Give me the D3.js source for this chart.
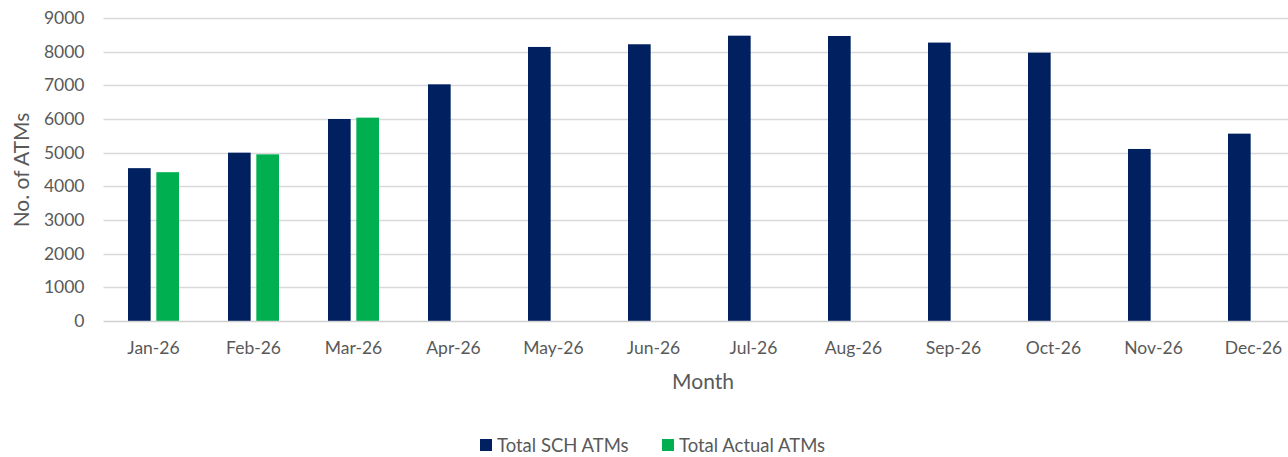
<!DOCTYPE html>
<html>
<head>
<meta charset="utf-8">
<script src="https://cdn.jsdelivr.net/npm/d3@7"></script>
<style>
  body { margin: 0; background: #fff; }
  svg { display: block; font-family: Lato, "Open Sans", sans-serif; }
</style>
</head>
<body>
<svg id="chart" width="1288" height="457"></svg>
<script>
// values
var months = ["Jan-26", "Feb-26", "Mar-26", "Apr-26", "May-26", "Jun-26",
              "Jul-26", "Aug-26", "Sep-26", "Oct-26", "Nov-26", "Dec-26"];
var schAtms = [4540, 5000, 6000, 7030, 8140, 8220, 8475, 8465, 8270, 7970, 5110, 5565];
var actualAtms = [4420, 4950, 6040, null, null, null, null, null, null, null, null, null];
var seriesNames = ["Total SCH ATMs", "Total Actual ATMs"];
var seriesColors = ["#002060", "#00b050"];
var yTicks = [0, 1000, 2000, 3000, 4000, 5000, 6000, 7000, 8000, 9000];

var svg = d3.select("#chart");
var width = 1288, height = 457;

// plot area (right side runs past the window, as in the reference)
var plot_l = 103.5, plot_r = 1303.5, plot_t = 18, plot_b = 321;

var x = d3.scaleBand()
    .domain(months)
    .range([plot_l, plot_r])
    .paddingInner(0)
    .paddingOuter(0);

var x1 = d3.scaleBand()
    .domain([0, 1])
    .range([0, 51])
    .paddingInner(0.2);

var y = d3.scaleLinear()
    .domain([0, 9000])
    .range([plot_b, plot_t]);

// gridlines
svg.append("g")
  .selectAll("line")
  .data(yTicks.filter(function(d) { return d > 0; }))
  .enter().append("line")
    .attr("x1", plot_l)
    .attr("x2", width)
    .attr("y1", function(d) { return Math.round(y(d)) + 0.5; })
    .attr("y2", function(d) { return Math.round(y(d)) + 0.5; })
    .attr("stroke", "#d9d9d9")
    .attr("stroke-width", 1.3);

// bars
var rows = months.map(function(m, i) { return { month: m, vals: [schAtms[i], actualAtms[i]] }; });

var groups = svg.append("g")
  .selectAll("g")
  .data(rows)
  .enter().append("g")
    .attr("transform", function(d) { return "translate(" + (x(d.month) + (x.bandwidth() - 51) / 2) + ",0)"; });

groups.selectAll("rect")
  .data(function(d) {
    return d.vals.map(function(v, k) { return { k: k, v: v }; })
      .filter(function(e) { return e.v != null; });
  })
  .enter().append("rect")
    .attr("x", function(d) { return x1(d.k); })
    .attr("width", x1.bandwidth())
    .attr("y", function(d) { return y(d.v); })
    .attr("height", function(d) { return plot_b - y(d.v); })
    .attr("fill", function(d) { return seriesColors[d.k]; });

// baseline
svg.append("line")
  .attr("x1", plot_l).attr("x2", width)
  .attr("y1", plot_b + 0.5).attr("y2", plot_b + 0.5)
  .attr("stroke", "#d0d0d0")
  .attr("stroke-width", 1.3);

// y axis
var yAxis = svg.append("g")
  .attr("transform", "translate(" + (plot_l - 19) + ",0)")
  .call(d3.axisLeft(y).tickValues(yTicks).tickFormat(d3.format("d")).tickSize(0).tickPadding(0));
yAxis.select(".domain").remove();
yAxis.selectAll("text")
  .attr("fill", "#595959")
  .style("font-size", "17.5px")
  .style("font-family", "Lato, sans-serif");

// x axis
var xAxis = svg.append("g")
  .attr("transform", "translate(0," + plot_b + ")")
  .call(d3.axisBottom(x).tickSize(0).tickPadding(21));
xAxis.select(".domain").remove();
xAxis.selectAll("text")
  .attr("fill", "#595959")
  .style("font-size", "17.5px")
  .style("font-family", "Lato, sans-serif");

// axis titles
svg.append("text")
  .attr("x", 703)
  .attr("y", 389)
  .attr("text-anchor", "middle")
  .attr("fill", "#595959")
  .style("font-size", "21px")
  .text("Month");

svg.append("text")
  .attr("transform", "translate(29,170) rotate(-90)")
  .attr("text-anchor", "middle")
  .attr("fill", "#595959")
  .style("font-size", "21px")
  .text("No. of ATMs");

// legend
var legendX = [480, 662];
var legend = svg.append("g")
  .selectAll("g")
  .data(seriesNames)
  .enter().append("g")
    .attr("transform", function(d, i) { return "translate(" + legendX[i] + ",439)"; });

legend.append("rect")
  .attr("width", 12)
  .attr("height", 12)
  .attr("fill", function(d, i) { return seriesColors[i]; });

legend.append("text")
  .attr("x", 17)
  .attr("y", 12.5)
  .attr("fill", "#595959")
  .style("font-size", "18.5px")
  .text(function(d) { return d; });
</script>
</body>
</html>
